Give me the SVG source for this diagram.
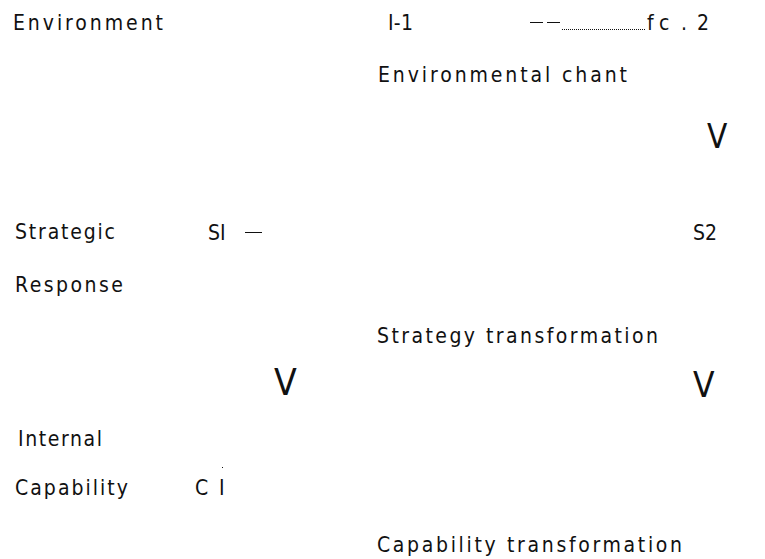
<svg xmlns="http://www.w3.org/2000/svg" width="765" height="559" viewBox="0 0 765 559">
  <style>
    text { font-family: "DejaVu Sans Condensed", "DejaVu Sans", sans-serif; font-size: 21px; fill: #111; }
    .big { font-size: 35px; }
  </style>
  <rect width="765" height="559" fill="#fff"/>
  <!-- row labels -->
  <g id="labels">
    <text x="13" y="30" textLength="150" lengthAdjust="spacing">Environment</text>
    <text x="15" y="239" textLength="100" lengthAdjust="spacing">Strategic</text>
    <text x="15" y="292" textLength="108" lengthAdjust="spacing">Response</text>
    <text x="18" y="446" textLength="84" lengthAdjust="spacing">Internal</text>
    <text x="15" y="495" textLength="113" lengthAdjust="spacing">Capability</text>
  </g>
  <!-- state nodes -->
  <g id="node-e1"><text x="388" y="30" textLength="25" lengthAdjust="spacing">I-1</text></g>
  <g id="node-e2"><text x="647 659 681 697" y="30">fc.2</text></g>
  <g id="node-s1"><text x="208" y="240">SI</text></g>
  <g id="node-s2"><text x="693" y="240">S2</text></g>
  <g id="node-c1"><text x="195" y="495">C</text><text x="219" y="495">I</text></g>
  <!-- transformation captions -->
  <g id="node-env-change"><text x="378" y="82" textLength="249" lengthAdjust="spacing">Environmental chant</text></g>
  <g id="node-strat-trans"><text x="377" y="343" textLength="281" lengthAdjust="spacing">Strategy  transformation</text></g>
  <g id="node-cap-trans"><text x="377" y="552" textLength="305" lengthAdjust="spacing">Capability  transformation</text></g>
  <!-- connector fragments -->
  <g id="connectors" stroke="#111" fill="none">
    <path d="M530 22.5h13M547 22.5h13"/>
    <path d="M562 29.5h83" stroke-dasharray="1 1"/>
    <path d="M245 232.5h17"/>
    <rect x="222" y="467" width="1" height="1" fill="#111" stroke="none"/>
    <text class="big" x="707" y="148" stroke="none" style="font-size:33px">V</text>
    <text class="big" x="274" y="395" stroke="none" style="font-size:37px">V</text>
    <text class="big" x="693" y="397" stroke="none">V</text>
  </g>
</svg>
